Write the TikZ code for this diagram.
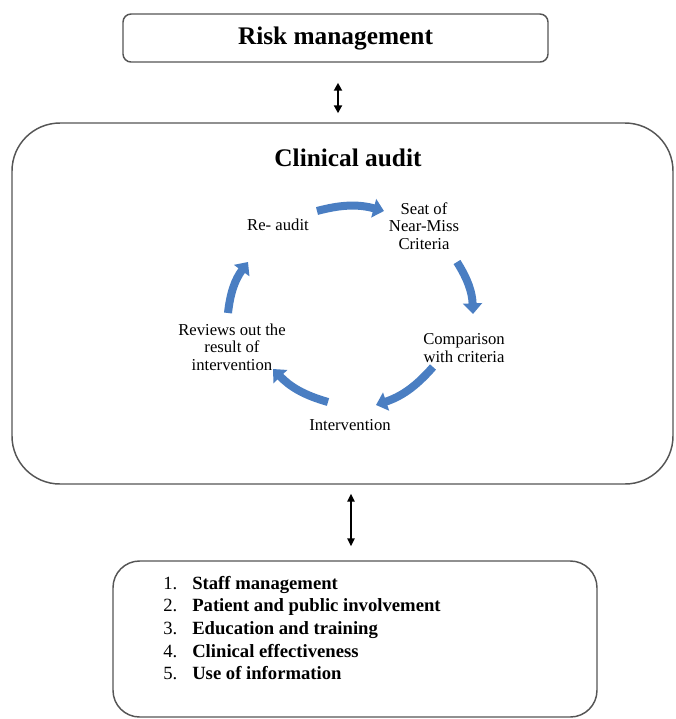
\documentclass[tikz,border=0pt]{standalone}
\usepackage{fontspec}
\setmainfont{Liberation Serif}
\usetikzlibrary{arrows.meta,calc}
\definecolor{cyc}{HTML}{4A7EC2}
\definecolor{bord}{HTML}{555555}
\begin{document}
\begin{tikzpicture}[x=0.75pt,y=-0.75pt,
  box/.style={draw=bord,line width=1.1pt,inner sep=0pt},
  lbl/.style={font=\fontsize{12.5}{13.2}\selectfont,align=center,inner sep=0pt},
  cyca/.style={draw=cyc,line width=6pt,-{Triangle[width=14pt,length=8pt]},bend left=15},
  dblone/.style={black,line width=1.5pt,{Triangle[width=6pt,length=6pt]}-{Triangle[width=6pt,length=6pt]}},
  dbltwo/.style={black,line width=1.1pt,{Triangle[width=5.5pt,length=6pt]}-{Triangle[width=5.5pt,length=6pt]}}]
\useasboundingbox (0,0) rectangle (676,719);

% boxes
\node[box,rounded corners=6pt,minimum width=318.75pt,minimum height=36pt,
      font=\bfseries\fontsize{19}{22}\selectfont] (risk) at (335.5,38) {Risk management};
\node[box,rounded corners=36pt,minimum width=495.75pt,minimum height=270.75pt] (audit) at (342.5,303.5) {};
\node[font=\bfseries\fontsize{19}{22}\selectfont,inner sep=0pt] (audittitle) at (348,158) {Clinical audit};
\node[box,rounded corners=20pt,minimum width=363pt,minimum height=117pt] (factors) at (355,639) {};
\node[anchor=west,inner sep=0pt] (list) at (163,630) {\fontsize{14}{16.9}\selectfont
  \begin{tabular}{@{}l@{}}
  \makebox[21.75pt][l]{1.}\textbf{Staff management}\\
  \makebox[21.75pt][l]{2.}\textbf{Patient and public involvement}\\
  \makebox[21.75pt][l]{3.}\textbf{Education and training}\\
  \makebox[21.75pt][l]{4.}\textbf{Clinical effectiveness}\\
  \makebox[21.75pt][l]{5.}\textbf{Use of information}
  \end{tabular}};

% cycle labels
\node[lbl] (reaudit) at (278,225) {Re- audit};
\node[lbl] (seat) at (424,226) {Seat of\\Near-Miss\\Criteria};
\node[lbl] (comp) at (464,348) {Comparison\\with criteria};
\node[lbl] (interv) at (350,425) {Intervention};
\node[lbl] (review) at (232,347) {Reviews out the\\result of\\intervention};

% cycle arrows
\coordinate (c1s) at (317,211); \coordinate (c1e) at (384,211);
\coordinate (c2s) at (457,262); \coordinate (c2e) at (473,314);
\coordinate (c3s) at (433,367); \coordinate (c3e) at (376,405);
\coordinate (c4s) at (328,402); \coordinate (c4e) at (273,369);
\coordinate (c5s) at (228,313); \coordinate (c5e) at (248,262);
\draw[cyca] (c1s) to (c1e);
\draw[cyca] (c2s) to (c2e);
\draw[cyca] (c3s) to (c3e);
\draw[cyca] (c4s) to (c4e);
\draw[cyca] (c5s) to (c5e);

% double arrows between boxes
\coordinate (xa) at (338,0);
\coordinate (xb) at (351,0);
\draw[dblone,shorten <=15pt,shorten >=6.75pt] (risk.south -| xa) -- (audit.north -| xa);
\draw[dbltwo,shorten <=6.75pt,shorten >=10.5pt] (audit.south -| xb) -- (factors.north -| xb);
\end{tikzpicture}
\end{document}
